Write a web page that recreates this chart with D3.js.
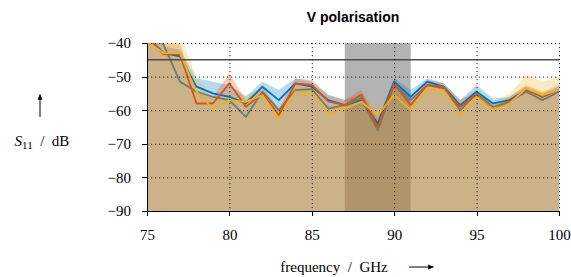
<!DOCTYPE html>
<html>
<head>
<meta charset="utf-8">
<script src="https://d3js.org/d3.v7.min.js"></script>
<style>
  body { margin: 0; background: #fff; }
  svg { font-family: "Liberation Serif", serif; }
  .axis path, .axis line { stroke: #000; stroke-width: 1; shape-rendering: crispEdges; }
  .axis text { font-size: 15px; font-family: "Liberation Serif", serif; fill: #000; }
  .grid line { stroke: #222; stroke-width: 1; stroke-dasharray: 1.2,2.8; }
  .grid path { display: none; }
</style>
</head>
<body>
<svg width="571" height="277"></svg>
<script>
const freq = [75,76,77,78,79,80,81,82,83,84,85,86,87,88,89,90,91,92,93,94,95,96,97,98,99,100];

const blue   = [-38,-43,-44,-53,-55,-56,-58,-53,-57,-52,-53,-57,-58.5,-57,-64,-51.5,-56,-51.5,-53,-58.5,-54.5,-58,-57,-54,-56,-54];
const orange = [-38,-43.3,-43.4,-58,-58,-52,-59,-55,-61.5,-52,-52.5,-57.4,-58.5,-55.4,-65,-52,-58.5,-52.5,-53.5,-59,-55.5,-60,-57.5,-54,-56,-54];
const yellow = [-39.5,-43,-43,-54.5,-59.5,-57,-57.5,-55.5,-62.5,-54.6,-54.6,-61,-59.5,-57.5,-61.5,-55.5,-60,-54,-54,-61.5,-56,-60,-58,-53.5,-55.5,-54];
const grey   = [-35,-40.5,-51.5,-54.5,-56,-57,-62,-54.5,-60,-54,-53.7,-59.5,-58.5,-56.5,-66,-52.5,-57,-52.5,-53,-60,-55,-59,-57.5,-54.5,-57,-54.5];

// height of the measurement spread above each curve (dB)
const blueSpread   = [2,2,2,2.5,3.5,3.5,2,1.5,3,1.5,1.5,1.5,1.5,1.5,1.5,1,2,1,1,1.5,2,1.5,1,1,1,1];
const orangeSpread = [3,3,3,3,2,3,2,2,2,1.5,1.5,2,1.5,1.5,2,1,1.5,1.5,1.5,2,1.5,1.5,1.5,1.5,1.5,1.5];
const yellowSpread = [4,5,6,4,3,2,2,2,2,2,2,2,2,2,2,2,2,2,2,2,2,2,3,4,4,4];

const yTicks = [-40,-50,-60,-70,-80,-90];
const xTicks = [75,80,85,90,95,100];
const band = [87, 91];
const threshold = -45;

const margin = {left: 147, top: 43, right: 12, bottom: 66};
const width = 571 - margin.left - margin.right;
const height = 277 - margin.top - margin.bottom;

const svg = d3.select("svg");
const g = svg.append("g").attr("transform", `translate(${margin.left},${margin.top})`);

const x = d3.scaleLinear().domain([75, 100]).range([0, width]);
const y = d3.scaleLinear().domain([-90, -40]).range([height, 0]);

const defs = svg.append("defs");
defs.append("clipPath").attr("id", "clip")
  .append("rect").attr("width", width).attr("height", height);

const plot = g.append("g").attr("clip-path", "url(#clip)");

plot.append("rect")
  .attr("x", x(band[0]))
  .attr("width", x(band[1]) - x(band[0]))
  .attr("y", 0)
  .attr("height", height)
  .attr("fill", "#b3b3b3");

const series = [
  {vals: blue,   color: "#0072bd", spread: blueSpread},
  {vals: grey,   color: "#6e7d6c", spread: null},
  {vals: orange, color: "#d95319", spread: orangeSpread},
  {vals: yellow, color: "#edb120", spread: yellowSpread}
];

series.forEach(s => {
  if (!s.spread) return;
  const area = d3.area()
    .x((d, i) => x(freq[i]))
    .y0(height)
    .y1((d, i) => y(d + s.spread[i]));
  plot.append("path")
    .datum(s.vals)
    .attr("d", area)
    .attr("fill", s.color)
    .attr("fill-opacity", 0.28);
});

// grid
g.append("g").attr("class", "grid")
  .call(d3.axisBottom(x).tickValues(xTicks.slice(1)).tickSize(height).tickFormat(""));
g.append("g").attr("class", "grid")
  .call(d3.axisRight(y).tickValues(yTicks.slice(0, -1)).tickSize(width).tickFormat(""));

const line = d3.line().x((d, i) => x(freq[i])).y(d => y(d));
series.forEach(s => {
  plot.append("path")
    .datum(s.vals)
    .attr("d", line)
    .attr("fill", "none")
    .attr("stroke", s.color)
    .attr("stroke-width", 1.8)
    .attr("stroke-linejoin", "round");
});

plot.append("line")
  .attr("x1", 0).attr("x2", width)
  .attr("y1", y(threshold)).attr("y2", y(threshold))
  .attr("stroke", "#4d4d4d")
  .attr("stroke-width", 1.5);

// axes
const minus = d => String(d).replace("-", "\u2212");
g.append("g").attr("class", "axis")
  .call(d3.axisLeft(y).tickValues(yTicks).tickSize(5).tickSizeOuter(0).tickPadding(11).tickFormat(minus));
g.append("g").attr("class", "axis")
  .attr("transform", `translate(0,${height})`)
  .call(d3.axisBottom(x).tickValues(xTicks).tickSize(5).tickSizeOuter(0).tickPadding(13));

// title
svg.append("text")
  .attr("x", margin.left + width / 2)
  .attr("y", 22)
  .attr("text-anchor", "middle")
  .style("font-family", "'Liberation Sans', Arial, sans-serif")
  .style("font-weight", "bold")
  .style("font-size", "14px")
  .text("V polarisation");

// y label with arrow
const yl = svg.append("text")
  .attr("x", 42)
  .attr("y", 146)
  .attr("text-anchor", "middle")
  .style("font-size", "15px");
yl.append("tspan").style("font-style", "italic").text("S");
yl.append("tspan").attr("dy", 3).style("font-size", "11px").text("11");
yl.append("tspan").attr("dy", -3).text("\u2002/\u2002dB");

const marker = defs.append("marker")
  .attr("id", "arrow")
  .attr("viewBox", "0 0 10 10")
  .attr("refX", 8).attr("refY", 5)
  .attr("markerWidth", 6).attr("markerHeight", 6)
  .attr("orient", "auto");
marker.append("path").attr("d", "M0,1 L10,5 L0,9 Z").attr("fill", "#000");

svg.append("line")
  .attr("x1", 40).attr("x2", 40).attr("y1", 117).attr("y2", 95)
  .attr("stroke", "#000").attr("stroke-width", 1)
  .attr("marker-end", "url(#arrow)");

svg.append("text")
  .attr("x", 334)
  .attr("y", 272)
  .attr("text-anchor", "middle")
  .style("font-size", "15px")
  .text("frequency\u2002/\u2002GHz");

svg.append("line")
  .attr("x1", 409).attr("x2", 433).attr("y1", 267).attr("y2", 267)
  .attr("stroke", "#000").attr("stroke-width", 1)
  .attr("marker-end", "url(#arrow)");
</script>
</body>
</html>
